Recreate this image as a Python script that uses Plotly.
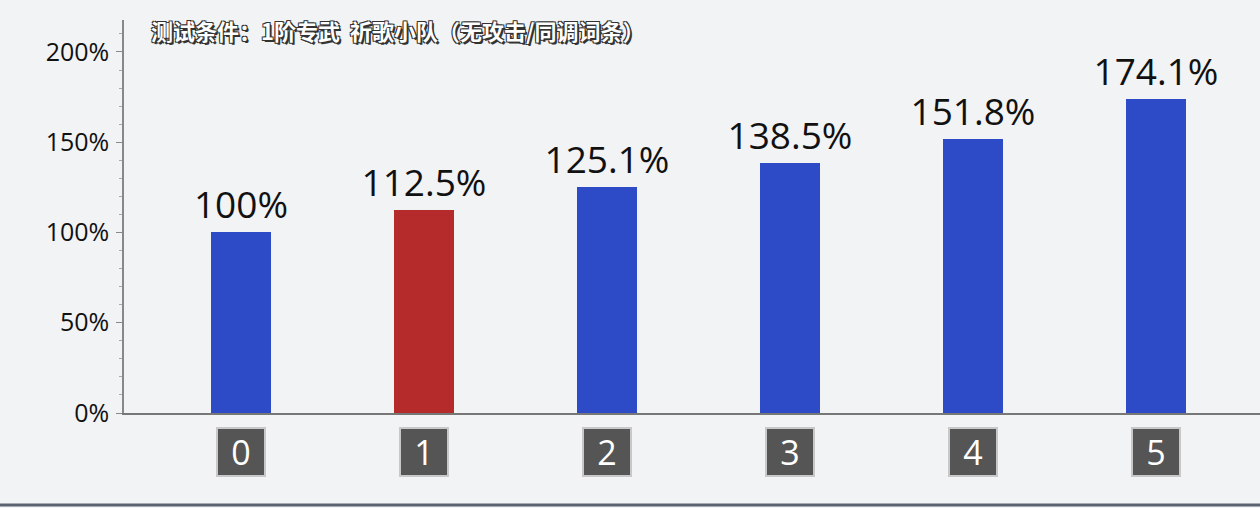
import plotly.graph_objects as go

levels = [0, 1, 2, 3, 4, 5]
values = [100, 112.5, 125.1, 138.5, 151.8, 174.1]
value_labels = ["100%", "112.5%", "125.1%", "138.5%", "151.8%", "174.1%"]
tick_labels = ["0", "1", "2", "3", "4", "5"]
y_tick_values = [0, 50, 100, 150, 200]
y_tick_labels = ["0%", "50%", "100%", "150%", "200%"]
title_text = "测试条件：1阶专武  祈歌小队（无攻击/同调词条）"

blue = "#2d4bc6"
red = "#b52a2a"
colors = [red if lv == 1 else blue for lv in levels]

fig = go.Figure()
fig.add_trace(go.Bar(
    x=levels, y=values, width=0.33,
    marker=dict(color=colors, line=dict(width=0)),
    text=value_labels, textposition="outside", cliponaxis=False, constraintext="none",
    textfont=dict(size=37, color="#111111", family="Open Sans"),
    hoverinfo="skip",
))

for lv, lab in zip(levels, tick_labels):
    fig.add_annotation(
        x=lv, y=-0.1, xref="x", yref="paper", text=lab, showarrow=False,
        font=dict(size=34, color="white", family="Open Sans"),
        bgcolor="#555555", bordercolor="#c8c8c8", borderwidth=2, borderpad=2,
        width=42, height=42, yanchor="middle",
    )

fig.add_annotation(
    x=0.022, y=0.975, xref="paper", yref="paper", text=title_text, showarrow=False,
    xanchor="left", yanchor="middle",
    font=dict(size=22, color="white", family="Noto Sans CJK SC", weight="bold",
              shadow="1px 1px 0 #333, -1px -1px 0 #333, 1px -1px 0 #333, -1px 1px 0 #333, 2px 2px 0 #333"),
)

fig.add_shape(type="line", xref="paper", yref="paper", x0=-0.2, x1=1.0, y0=-0.234, y1=-0.234,
              line=dict(color="#5a6270", width=3))

fig.update_layout(
    width=1260, height=508,
    margin=dict(l=124, r=0, t=20, b=95),
    paper_bgcolor="#f2f3f5", plot_bgcolor="#f2f3f5",
    showlegend=False, bargap=0,
    font=dict(family="Open Sans"),
    xaxis=dict(range=[-0.639, 5.568], showticklabels=False, showgrid=False, zeroline=False,
               showline=True, linecolor="#777777", linewidth=1.5, ticks=""),
    yaxis=dict(range=[0, 217.7], tickvals=y_tick_values, ticktext=y_tick_labels,
               showgrid=False, zeroline=False, showline=True, linecolor="#888888", linewidth=1.5,
               ticks="outside", ticklen=6, tickcolor="#888888",
               tickfont=dict(size=25, color="#111111", family="Open Sans"),
               minor=dict(dtick=10, ticks="outside", ticklen=3, tickcolor="#aaaaaa"),
               ticklabelstandoff=2),
)

fig.write_html("out.html", config={"displayModeBar": False})
with open("out.html", encoding="utf-8") as f:
    html = f.read()
html = html.replace("<head>", "<head><style>html,body{margin:0;padding:0;overflow:hidden;}</style>", 1)
with open("out.html", "w", encoding="utf-8") as f:
    f.write(html)
